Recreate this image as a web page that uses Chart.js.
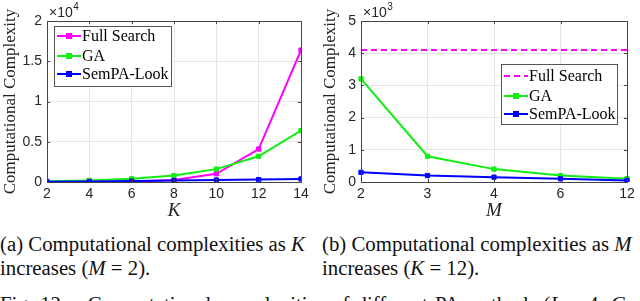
<!DOCTYPE html>
<html>
<head>
<meta charset="utf-8">
<script src="https://cdn.jsdelivr.net/npm/chart.js@4.4.1/dist/chart.umd.min.js"></script>
<style>
  html, body { margin: 0; padding: 0; background: #fff; }
  body { width: 640px; height: 301px; position: relative; overflow: hidden; }
  .plot { position: absolute; top: 0; width: 320px; height: 230px; }
  .cap { position: absolute; font-family: 'Liberation Serif', 'DejaVu Serif', serif; font-size: 20.8px; line-height: 24px; color: #111; white-space: nowrap; }
  i { font-style: italic; }
</style>
</head>
<body>
<div class="plot" style="left:0"><canvas id="chartK" width="320" height="230"></canvas></div>
<div class="plot" style="left:320px"><canvas id="chartM" width="320" height="230"></canvas></div>

<div class="cap" style="left:0; top:232px;">(a) Computational complexities as&nbsp;<i>K</i></div>
<div class="cap" style="left:0; top:256px;">increases (<i>M</i>&nbsp;=&nbsp;2).</div>
<div class="cap" style="left:322px; top:232px;">(b) Computational complexities as&nbsp;<i>M</i></div>
<div class="cap" style="left:322px; top:256px;">increases (<i>K</i>&nbsp;=&nbsp;12).</div>
<div class="cap" style="left:0; top:292px; word-spacing:2px;">Fig. 12.&nbsp;&nbsp; Computational complexities of different PA methods (<i>L</i> = 4, <i>C</i></div>

<script>
// --- Daten (a): Komplexitaet ueber K (M = 2)
const kValues = [2, 4, 6, 8, 10, 12, 14];
const fullSearchK = [4, 16, 64, 256, 1024, 4096, 16384];
const gaK = [100, 200, 400, 800, 1600, 3200, 6400];
const semPaK = [20, 60, 110, 180, 250, 300, 380];
const kTicks = [0, 5000, 10000, 15000, 20000];

// --- Daten (b): Komplexitaet ueber M (K = 12)
const mLabels = ['2', '3', '4', '6', '12'];
const fullSearchM = [4096, 4096, 4096, 4096, 4096];
const gaM = [3200, 800, 400, 200, 100];
const semPaM = [300, 200, 150, 100, 50];
const mTicks = [0, 1000, 2000, 3000, 4000, 5000];

const legendNames = ['Full Search', 'GA', 'SemPA-Look'];
const colors = { full: '#ff00ff', ga: '#11ee11', sem: '#0000ff' };

const tickFont = { family: "'Liberation Sans', Arial, sans-serif", size: 14 };
const serif = "'Liberation Serif', 'DejaVu Serif', serif";
const gridColor = '#e6e6e6';
const axisColor = '#262626';

// Rahmen, Exponent und Legende im MATLAB-Stil
const matlabPlugin = {
    id: 'matlab',
    afterDatasetsDraw(chart, args, opts) {
        const ctx = chart.ctx;
        const a = chart.chartArea;
        ctx.save();
        // Box
        ctx.strokeStyle = '#444';
        ctx.lineWidth = 1;
        ctx.strokeRect(Math.round(a.left) + 0.5, Math.round(a.top) + 0.5,
                       Math.round(a.right - a.left), Math.round(a.bottom - a.top));
        // kleine Ticks innen
        const xs = chart.scales.x, ys = chart.scales.y;
        ctx.beginPath();
        xs.ticks.forEach((t, i) => {
            const px = Math.round(xs.getPixelForTick(i)) + 0.5;
            ctx.moveTo(px, a.bottom); ctx.lineTo(px, a.bottom - 3);
            ctx.moveTo(px, a.top); ctx.lineTo(px, a.top + 3);
        });
        ys.ticks.forEach((t, i) => {
            const py = Math.round(ys.getPixelForTick(i)) + 0.5;
            ctx.moveTo(a.left, py); ctx.lineTo(a.left + 3, py);
            ctx.moveTo(a.right, py); ctx.lineTo(a.right - 3, py);
        });
        ctx.stroke();

        // Exponent
        ctx.fillStyle = axisColor;
        ctx.font = "14px 'Liberation Sans', Arial, sans-serif";
        ctx.textBaseline = 'alphabetic';
        ctx.textAlign = 'left';
        const ex = a.left + 2;
        ctx.fillText('\u00d710', ex, 17);
        const w = ctx.measureText('\u00d710').width;
        ctx.font = "10px 'Liberation Sans', Arial, sans-serif";
        ctx.fillText(opts.exponent, ex + w + 0.5, 10);

        // Legende
        const lg = opts.legend;
        ctx.fillStyle = '#fff';
        ctx.fillRect(lg.x, lg.y, lg.w, lg.h);
        ctx.strokeStyle = '#555';
        ctx.strokeRect(lg.x + 0.5, lg.y + 0.5, lg.w, lg.h);
        ctx.font = '16px ' + serif;
        ctx.textBaseline = 'middle';
        chart.data.datasets.forEach((ds, i) => {
            const yy = lg.y + lg.rows[i];
            const x0 = lg.x + 3, x1 = lg.x + 27;
            ctx.strokeStyle = ds.borderColor;
            ctx.lineWidth = 2;
            ctx.setLineDash(ds.borderDash || []);
            ctx.beginPath(); ctx.moveTo(x0, yy); ctx.lineTo(x1, yy); ctx.stroke();
            ctx.setLineDash([]);
            if (ds.pointRadius > 0) {
                ctx.fillStyle = ds.borderColor;
                ctx.fillRect((x0 + x1) / 2 - 3, yy - 3, 6, 6);
            }
            ctx.fillStyle = '#000';
            ctx.fillText(legendNames[i], x1 + 1, yy + 1);
        });
        ctx.restore();
    }
};

function series(label, data, color, order, dashed) {
    return {
        label: label,
        data: data,
        borderColor: color,
        backgroundColor: color,
        borderWidth: 2,
        borderDash: dashed ? [6, 4] : [],
        pointStyle: 'rect',
        pointRadius: dashed ? 0 : 3,
        pointBorderWidth: 1,
        tension: 0,
        order: order
    };
}

function yAxis(ticks, divisor, width) {
    return {
        min: ticks[0],
        max: ticks[ticks.length - 1],
        afterBuildTicks: s => { s.ticks = ticks.map(v => ({ value: v })); },
        afterFit: s => { s.width = width; },
        grid: { color: gridColor, tickLength: 0, drawTicks: false },
        border: { display: false },
        ticks: {
            font: tickFont, color: axisColor, padding: 5,
            callback: v => String(v / divisor)
        },
        title: {
            display: true, text: 'Computational Complexity', color: '#222',
            font: { family: serif, size: 17 }, padding: { top: 0, bottom: 0 }
        }
    };
}

function xTitle(text) {
    return {
        display: true, text: text, color: '#222',
        font: { family: serif, size: 19, style: 'italic' }, padding: { top: 0, bottom: 8 }
    };
}

const baseOptions = {
    responsive: false,
    animation: false,
    plugins: { legend: { display: false }, tooltip: { enabled: false } }
};

// --- Chart (a)
new Chart(document.getElementById('chartK').getContext('2d'), {
    type: 'line',
    data: {
        labels: kValues,
        datasets: [
            series('Full Search', kValues.map((k, i) => ({ x: k, y: fullSearchK[i] })), colors.full, 3),
            series('GA', kValues.map((k, i) => ({ x: k, y: gaK[i] })), colors.ga, 2),
            series('SemPA-Look', kValues.map((k, i) => ({ x: k, y: semPaK[i] })), colors.sem, 1)
        ]
    },
    options: {
        ...baseOptions,
        layout: { padding: { left: 0, top: 21, right: 19, bottom: 0 } },
        scales: {
            x: {
                type: 'linear', min: 2, max: 14,
                afterBuildTicks: s => { s.ticks = kValues.map(v => ({ value: v })); },
                afterFit: s => { s.height = 48; },
                grid: { color: gridColor, drawTicks: false },
                border: { display: false },
                ticks: { font: tickFont, color: axisColor, padding: 4, maxRotation: 0 },
                title: xTitle('K')
            },
            y: yAxis(kTicks, 10000, 47)
        },
        plugins: {
            ...baseOptions.plugins,
            matlab: { exponent: '4', legend: { x: 54, y: 26, w: 117, h: 60, rows: [10, 30, 48] } }
        }
    },
    plugins: [matlabPlugin]
});

// --- Chart (b)
new Chart(document.getElementById('chartM').getContext('2d'), {
    type: 'line',
    data: {
        labels: mLabels,
        datasets: [
            series('Full Search', fullSearchM, colors.full, 3, true),
            series('GA', gaM, colors.ga, 2),
            series('SemPA-Look', semPaM, colors.sem, 1)
        ]
    },
    options: {
        ...baseOptions,
        layout: { padding: { left: 0, top: 21, right: 13, bottom: 0 } },
        scales: {
            x: {
                type: 'category', offset: false,
                afterFit: s => { s.height = 48; },
                grid: { color: gridColor, drawTicks: false, offset: false },
                border: { display: false },
                ticks: { font: tickFont, color: axisColor, padding: 4, maxRotation: 0 },
                title: xTitle('M')
            },
            y: yAxis(mTicks, 1000, 41)
        },
        plugins: {
            ...baseOptions.plugins,
            matlab: { exponent: '3', legend: { x: 181, y: 64, w: 116, h: 60, rows: [12, 32, 50] } }
        }
    },
    plugins: [matlabPlugin]
});
</script>
</body>
</html>
